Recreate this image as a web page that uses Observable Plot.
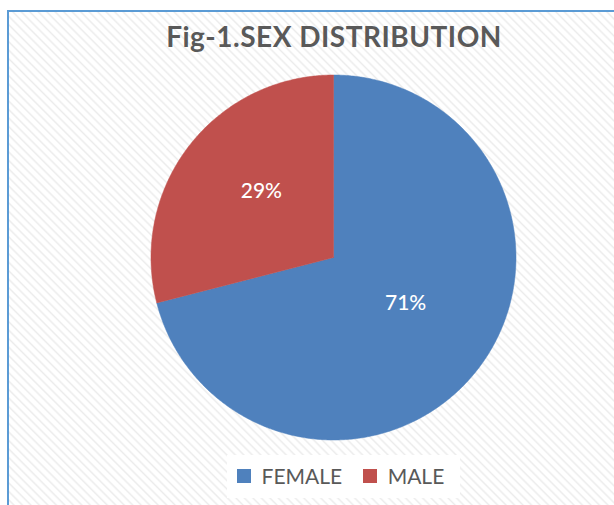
<!DOCTYPE html>
<html>
<head>
<meta charset="utf-8">
<script src="https://cdn.jsdelivr.net/npm/d3@7"></script>
<script src="https://cdn.jsdelivr.net/npm/@observablehq/plot@0.6"></script>
<style>
  html, body { margin: 0; padding: 0; background: #fff; width: 614px; height: 505px; overflow: hidden; }
  #frame {
    position: absolute; left: 7px; top: 10px; width: 640px; height: 520px;
    border-top: 2px solid #5B9BD5; border-left: 2px solid #5B9BD5;
    background: repeating-linear-gradient(45deg, #ffffff 0px, #ffffff 3px, #ececec 4.5px, #ffffff 6px);
  }
  #title {
    position: absolute; left: 0; width: 668px; top: 19px; text-align: center;
    font-family: Lato, sans-serif; font-weight: bold; font-size: 28px; letter-spacing: 0.5px; color: #595959;
  }
  #chart { position: absolute; left: 0; top: 0; }
  #legbox { position: absolute; left: 227px; top: 455px; width: 233px; height: 43px; background: #fff; }
  #legend { position: absolute; left: 237px; top: 459px; }
</style>
</head>
<body>
<div id="frame"></div>
<div id="chart"></div>
<div id="legbox"></div>
<div id="title"></div>
<div id="legend"></div>
<script>
const titleText = "Fig-1.SEX DISTRIBUTION";
const categories = ["FEMALE", "MALE"];
const values = [71, 29];
const labels = ["71%", "29%"];
const colors = ["#4F81BD", "#C0504D"];

document.getElementById("title").textContent = titleText;

// build slice outlines from the values (angle measured clockwise from the top)
const total = d3.sum(values);
const slices = [];
const labelRows = [];
let start = 0;
categories.forEach((c, i) => {
  const a0 = start / total * 2 * Math.PI;
  const a1 = (start + values[i]) / total * 2 * Math.PI;
  slices.push({cat: c, x: 0, y: 0});
  const n = Math.max(2, Math.ceil((a1 - a0) / 0.01));
  for (let k = 0; k <= n; k++) {
    const a = a0 + (a1 - a0) * k / n;
    slices.push({cat: c, x: Math.sin(a), y: Math.cos(a)});
  }
  slices.push({cat: c, x: 0, y: 0});
  const am = (a0 + a1) / 2;
  labelRows.push({cat: c, label: labels[i], x: 0.5 * Math.sin(am), y: 0.5 * Math.cos(am)});
  start += values[i];
});

const cx = 333, cy = 257, r = 182.5;
const chart = Plot.plot({
  width: 614,
  height: 505,
  margin: 0,
  style: {background: "transparent", overflow: "visible"},
  x: {domain: [-1, 1], range: [cx - r, cx + r], axis: null},
  y: {domain: [-1, 1], range: [cy + r, cy - r], axis: null},
  color: {domain: categories, range: colors},
  marks: [
    Plot.line(slices, {x: "x", y: "y", z: "cat", fill: "cat", stroke: "cat", strokeWidth: 0.5, curve: "linear"}),
    Plot.text(labelRows, {x: "x", y: "y", dy: -10, text: "label", fill: "white", fontSize: 21, fontFamily: "Lato, sans-serif", fontWeight: 500})
  ]
});
document.getElementById("chart").appendChild(chart);

const leg = chart.legend("color", {
  swatchSize: 14,
  style: {fontFamily: "Lato, sans-serif", fontSize: "21px", color: "#595959", background: "transparent"}
});
document.getElementById("legend").appendChild(leg);
</script>
</body>
</html>
